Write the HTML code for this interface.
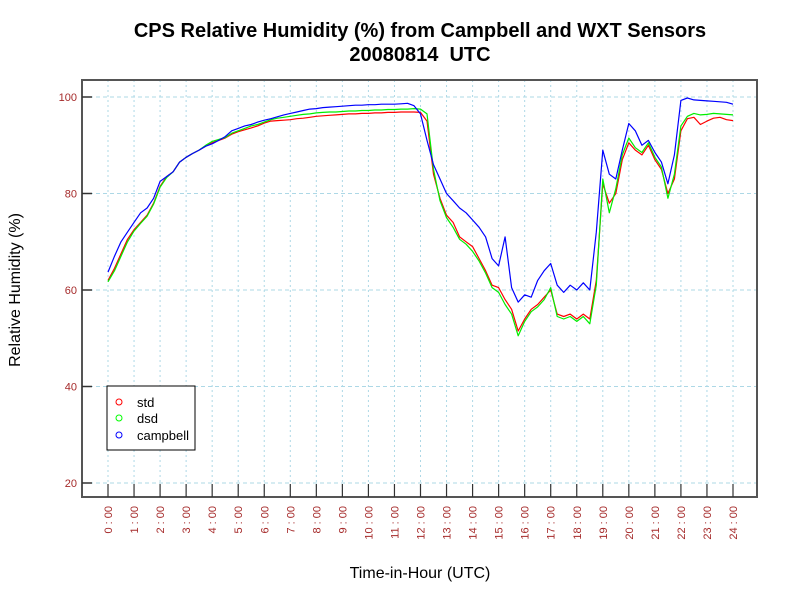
<!DOCTYPE html>
<html><head><meta charset="utf-8"><style>
body{margin:0;background:#fff;}
svg{display:block;font-family:"Liberation Sans",sans-serif;}
</style></head><body>
<svg id="chart" width="800" height="600" viewBox="0 0 800 600">
<text x="420" y="37" text-anchor="middle" font-size="20" font-weight="bold">CPS Relative Humidity (%) from Campbell and WXT Sensors</text>
<text x="420" y="61" text-anchor="middle" font-size="20" font-weight="bold" xml:space="preserve">20080814  UTC</text>
<g id="grid"></g>
<g id="series"></g>
<rect x="82" y="80" width="675" height="417" fill="none" stroke="#555" stroke-width="2"/>
<g id="axes"></g>
<text x="0" y="0" transform="translate(20,290) rotate(-90)" text-anchor="middle" font-size="16">Relative Humidity (%)</text>
<text x="420" y="578" text-anchor="middle" font-size="16">Time-in-Hour (UTC)</text>
<g>
<rect x="107" y="386" width="88" height="64" fill="#fff" stroke="#000" stroke-width="1"/>
<g><circle cx="119" cy="402" r="3" fill="none" stroke="#f00"/><text x="137" y="407" font-size="13">std</text></g>
<g><circle cx="119" cy="418" r="3" fill="none" stroke="#0f0"/><text x="137" y="423" font-size="13">dsd</text></g>
<g><circle cx="119" cy="435" r="3" fill="none" stroke="#00f"/><text x="137" y="440" font-size="13">campbell</text></g>
</g>
</svg>
<script>
const hours = [];
for (let i = 0; i <= 96; i++) hours.push(i / 4);
const yTicks = [20, 40, 60, 80, 100];
const xTickLabels = ["0 : 00","1 : 00","2 : 00","3 : 00","4 : 00","5 : 00","6 : 00","7 : 00","8 : 00","9 : 00","10 : 00","11 : 00","12 : 00","13 : 00","14 : 00","15 : 00","16 : 00","17 : 00","18 : 00","19 : 00","20 : 00","21 : 00","22 : 00","23 : 00","24 : 00"];
const campbell = [63.7,67,70,72,74,76,77,79,82.5,83.5,84.5,86.5,87.5,88.3,89,89.8,90.3,91,91.8,93,93.5,94,94.3,94.8,95.2,95.5,95.9,96.3,96.6,96.9,97.2,97.5,97.6,97.8,97.9,98,98.1,98.2,98.3,98.3,98.4,98.4,98.5,98.5,98.5,98.6,98.7,98.2,96.5,91,86,83,80,78.5,77,76,74.5,73,71,66.5,65,71,60.5,57.5,59,58.5,62,64,65.5,61,59.5,61,60,61.5,60,72,89,84,83,89,94.5,93,90,91,88.5,86.5,82,88,99.3,99.8,99.4,99.3,99.2,99.1,99,98.9,98.5];
const std = [62,64.5,67.5,70.5,72.5,74,75.5,78,81.5,83.5,84.5,86.5,87.5,88.3,89,89.8,90.5,91,91.5,92.3,92.8,93.2,93.6,94,94.6,95,95.1,95.2,95.3,95.5,95.6,95.8,96,96.1,96.2,96.3,96.4,96.5,96.5,96.6,96.6,96.7,96.7,96.8,96.8,96.9,96.9,96.9,96.8,95,84,79,75.5,74,71,70,69,66.5,64,61,60.5,58,56,51.5,54,56,57,58.5,60,55,54.5,55,54,55,54,62,82,78,80,87,90.5,89,88,90,87,85,80,83,93,95.5,95.8,94.3,95,95.6,95.8,95.3,95.1];
const dsd = [61.7,64,67,70,72.2,73.8,75.3,77.8,81.3,83.3,84.5,86.5,87.5,88.3,89,90,90.8,91.2,91.6,92.5,93,93.5,94,94.3,94.8,95.3,95.6,95.8,96,96.2,96.4,96.5,96.7,96.8,96.9,96.9,97,97.1,97.1,97.2,97.2,97.3,97.3,97.4,97.4,97.5,97.5,97.6,97.5,96.5,85,78.5,75,73,70.5,69.5,68,66,63.5,60.5,59.5,57,55,50.5,53.5,55.5,56.5,58,60.5,54.5,54,54.5,53.5,54.5,53,61,83,76,81,88,91.5,89.5,88.5,90.5,87.5,85.5,79,84,94,96,96.6,96.3,96.4,96.6,96.5,96.4,96.3];

const NS = "http://www.w3.org/2000/svg";
const X0 = 108, X1 = 733, Y100 = 97, Y20 = 483;
function xs(h) { return X0 + (h / 24) * (X1 - X0); }
function ys(v) { return Y20 + (v - 20) / 80 * (Y100 - Y20); }
function mk(tag, attrs, parent) {
  const e = document.createElementNS(NS, tag);
  for (const k in attrs) e.setAttribute(k, attrs[k]);
  parent.appendChild(e);
  return e;
}
const grid = document.getElementById("grid");
const axes = document.getElementById("axes");
const series = document.getElementById("series");

yTicks.forEach(v => {
  const g = mk("line", {x1: 82, x2: 757, y1: ys(v), y2: ys(v), stroke: "#add8e6", "stroke-dasharray": "4,3"}, grid);
  
  
  const t = mk("line", {x1: 82, x2: 92, y1: ys(v), y2: ys(v), stroke: "#333", "stroke-width": 1.5}, axes);
  
  
  const l = mk("text", {x: 77, y: ys(v) + 4, "text-anchor": "end", "font-size": 11, fill: "#a52a2a"}, axes);
  l.textContent = v;
  
  
});
xTickLabels.forEach((lab, i) => {
  const x = xs(i);
  const g = mk("line", {x1: x, x2: x, y1: 80, y2: 497, stroke: "#add8e6", "stroke-dasharray": "2,3"}, grid);
  
  
  const t = mk("line", {x1: x, x2: x, y1: 484, y2: 497, stroke: "#333", "stroke-width": 1.2}, axes);
  
  
  const l = mk("text", {x: 0, y: 0, transform: "translate(" + (x + 4) + ",506) rotate(-90)", "text-anchor": "end", "font-size": 11, fill: "#a52a2a"}, axes);
  l.textContent = lab;
  
  
});
function drawLine(vals, color, name) {
  const d = vals.map((v, i) => (i ? "L" : "M") + xs(hours[i]).toFixed(1) + "," + ys(v).toFixed(1)).join("");
  const p = mk("path", {d: d, fill: "none", stroke: color, "stroke-width": 1.2, "stroke-linejoin": "round"}, series);
  
  
}
drawLine(std, "#ff0000", "std-line");
drawLine(dsd, "#00ee00", "dsd-line");
drawLine(campbell, "#0000ff", "campbell-line");
</script>
</body></html>
